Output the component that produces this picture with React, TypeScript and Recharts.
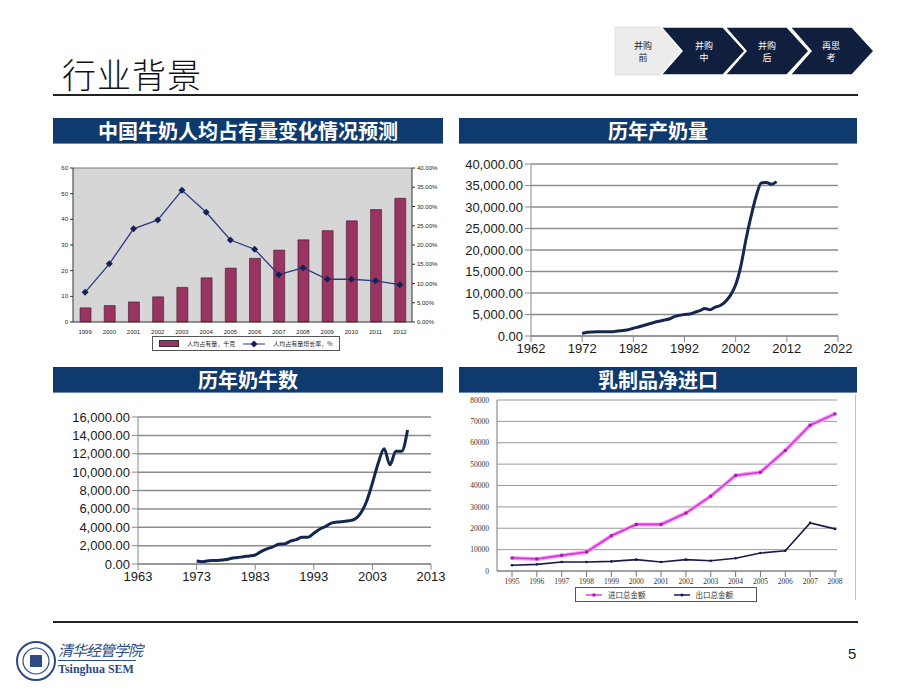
import React from "react";
import {
  ComposedChart,
  LineChart,
  Bar,
  Line,
  XAxis,
  YAxis,
  CartesianGrid,
  Legend,
  ReferenceLine,
} from "recharts";

// 中国牛奶人均占有量
const perCapitaYears = ["1999", "2000", "2001", "2002", "2003", "2004", "2005", "2006", "2007", "2008", "2009", "2010", "2011", "2012"];
const perCapitaKg = [5.5, 6.4, 7.8, 9.8, 13.5, 17.2, 21.0, 24.8, 28.0, 32.0, 35.6, 39.4, 43.8, 48.2];
const perCapitaGrowth = [7.7, 15.1, 24.2, 26.5, 34.2, 28.5, 21.3, 18.9, 12.3, 14.1, 11.1, 11.1, 10.7, 9.7];

// 历年产奶量
const milkYears = [1972, 1973, 1974, 1975, 1976, 1977, 1978, 1979, 1980, 1981, 1982, 1983, 1984, 1985, 1986, 1987, 1988, 1989, 1990, 1991, 1992, 1993, 1994, 1995, 1996, 1997, 1998, 1999, 2000, 2001, 2002, 2003, 2004, 2005, 2006, 2007, 2008, 2009, 2010];
const milkOutput = [600, 850, 950, 1000, 1000, 1000, 1000, 1150, 1300, 1450, 1800, 2100, 2450, 2800, 3150, 3450, 3700, 3950, 4500, 4800, 5000, 5100, 5500, 5900, 6400, 6100, 6700, 7100, 8000, 9500, 11900, 16200, 22400, 27800, 32500, 35600, 35700, 35300, 35900];
const milkTicks = [1962, 1972, 1982, 1992, 2002, 2012, 2022];

// 历年奶牛数
const cowYears = [1973, 1974, 1975, 1976, 1977, 1978, 1979, 1980, 1981, 1982, 1983, 1984, 1985, 1986, 1987, 1988, 1989, 1990, 1991, 1992, 1993, 1994, 1995, 1996, 1997, 1998, 1999, 2000, 2001, 2002, 2003, 2004, 2005, 2006, 2007, 2008, 2009];
const cowCount = [330, 250, 360, 380, 400, 480, 620, 700, 800, 870, 980, 1350, 1640, 1860, 2150, 2190, 2480, 2660, 2900, 2900, 3350, 3790, 4080, 4450, 4560, 4630, 4700, 4880, 5540, 6800, 8800, 11000, 12540, 10800, 12280, 12280, 14580];
const cowTicks = [1963, 1973, 1983, 1993, 2003, 2013];

// 乳制品净进口
const tradeYears = ["1995", "1996", "1997", "1998", "1999", "2000", "2001", "2002", "2003", "2004", "2005", "2006", "2007", "2008"];
const importTotal = [6100, 5650, 7300, 8900, 16500, 21800, 21800, 27100, 35000, 44700, 46200, 56400, 68200, 73500];
const exportTotal = [2700, 3100, 4200, 4200, 4500, 5300, 4200, 5300, 4800, 6000, 8400, 9500, 22500, 19700];

const perCapitaData = perCapitaYears.map((y, i) => ({ year: y, kg: perCapitaKg[i], rate: perCapitaGrowth[i] }));
const milkData = milkYears.map((y, i) => ({ year: y, value: milkOutput[i] }));
const cowData = cowYears.map((y, i) => ({ year: y, value: cowCount[i] }));
const tradeData = tradeYears.map((y, i) => ({ year: y, imp: importTotal[i], exp: exportTotal[i] }));

const NAVY = "#0f3a6e";
const CJK = "'Noto Sans CJK SC', 'Noto Sans', sans-serif";
const fmt2 = (v: number) => v.toLocaleString("en-US", { minimumFractionDigits: 2, maximumFractionDigits: 2 });

function Diamond(props: any) {
  const { cx, cy } = props;
  if (cx == null || cy == null) return null;
  return <path d={`M${cx},${cy - 3.5} L${cx + 3.5},${cy} L${cx},${cy + 3.5} L${cx - 3.5},${cy} Z`} fill="#14205a" />;
}

function SmallSquare(props: any) {
  const { cx, cy } = props;
  if (cx == null || cy == null) return null;
  return <rect x={cx - 1.5} y={cy - 1.5} width={3} height={3} fill="#a020a0" />;
}

function TitleBar({ left, top, width, text }: { left: number; top: number; width: number; text: string }) {
  return (
    <div
      style={{
        position: "absolute", left, top, width, height: 25, background: NAVY,
        color: "#fff", fontFamily: CJK, fontWeight: 700, fontSize: 20,
        lineHeight: "25px", textAlign: "center", borderBottom: "1px solid #6a88b0",
      }}
    >
      {text}
    </div>
  );
}

function PerCapitaLegend() {
  return (
    <div style={{ display: "flex", justifyContent: "center" }}>
      <div style={{ border: "1px solid #555", padding: "2px 6px", display: "flex", alignItems: "center", gap: 8, fontSize: 6, fontFamily: CJK, color: "#222", background: "#fff" }}>
        <span style={{ display: "inline-block", width: 18, height: 5, background: "#99335f", border: "0.5px solid #333" }} />
        <span>人均占有量，千克</span>
        <svg width={22} height={8}><line x1={0} y1={4} x2={22} y2={4} stroke="#2a3a80" strokeWidth={1} /><Diamond cx={11} cy={4} /></svg>
        <span>人均占有量增长率，%</span>
      </div>
    </div>
  );
}

function TradeLegend() {
  return (
    <div style={{ display: "flex", justifyContent: "center", paddingLeft: 30 }}>
      <div style={{ border: "1px solid #555", padding: "1px 10px", display: "flex", alignItems: "center", gap: 6, fontSize: 7.5, fontFamily: CJK, color: "#333", background: "#fff", width: 160 }}>
        <svg width={16} height={8}><line x1={0} y1={4} x2={16} y2={4} stroke="#e040e0" strokeWidth={1.5} /><SmallSquare cx={8} cy={4} /></svg>
        <span style={{ marginRight: 22 }}>进口总金额</span>
        <svg width={16} height={8}><line x1={0} y1={4} x2={16} y2={4} stroke="#1a1a4a" strokeWidth={1.5} /><circle cx={8} cy={4} r={1.5} fill="#1a1a4a" /></svg>
        <span>出口总金额</span>
      </div>
    </div>
  );
}

function Nav() {
  const chevrons = [
    { x: 661, text: ["并购", "中"], cx: 704 },
    { x: 725, text: ["并购", "后"], cx: 767 },
    { x: 790, text: ["再思", "考"], cx: 831 },
  ];
  return (
    <svg width={920} height={100} style={{ position: "absolute", left: 0, top: 0 }}>
      <rect x={615} y={27} width={70} height={48} fill="#ececec" stroke="#d0d0d0" strokeWidth={0.5} />
      {chevrons.map((c, i) => (
        <path
          key={i}
          d={`M${c.x},27 L${c.x + 62},27 L${c.x + 84},51 L${c.x + 62},75 L${c.x},75 L${c.x + 21},51 Z`}
          fill="#0f1f3d"
          stroke="#fff"
          strokeWidth={1.5}
        />
      ))}
      <text x={643} y={49} textAnchor="middle" fontSize={9} fontFamily={CJK} fill="#222">并购</text>
      <text x={643} y={61} textAnchor="middle" fontSize={9} fontFamily={CJK} fill="#222">前</text>
      {chevrons.map((c, i) => (
        <g key={"t" + i}>
          <text x={c.cx} y={49} textAnchor="middle" fontSize={9} fontFamily={CJK} fill="#fff">{c.text[0]}</text>
          <text x={c.cx} y={61} textAnchor="middle" fontSize={9} fontFamily={CJK} fill="#fff">{c.text[1]}</text>
        </g>
      ))}
    </svg>
  );
}

export default function App() {
  const axisFont = { fontSize: 13, fill: "#1a1a1a", fontFamily: "'Liberation Sans', Arial, sans-serif" };
  const tinyFont = { fontSize: 6, fill: "#222", fontFamily: "'Liberation Sans', Arial, sans-serif" };
  const serifTiny = { fontSize: 7.5, fill: "#333", fontFamily: "'Liberation Serif', 'DejaVu Serif', serif" };

  return (
    <div style={{ position: "absolute", left: 0, top: 0, width: 920, height: 690, background: "#fff", overflow: "hidden" }}>
      <Nav />
      <div style={{ position: "absolute", left: 62, top: 49, fontFamily: CJK, fontSize: 34, fontWeight: 300, color: "#111", letterSpacing: 1 }}>
        行业背景
      </div>
      <div style={{ position: "absolute", left: 53, top: 94, width: 805, height: 2, background: "#222" }} />

      <TitleBar left={53} top={118} width={390} text="中国牛奶人均占有量变化情况预测" />
      <TitleBar left={459} top={118} width={398} text="历年产奶量" />
      <TitleBar left={53} top={367} width={390} text="历年奶牛数" />
      <TitleBar left={459} top={367} width={398} text="乳制品净进口" />

      {/* 中国牛奶人均占有量变化情况预测 */}
      <div style={{ position: "absolute", left: 50, top: 160 }}>
        <ComposedChart width={392} height={193} data={perCapitaData} margin={{ top: 8, right: 3, bottom: 0, left: 3 }} barCategoryGap="50%">
          <CartesianGrid fill="#d6d6d6" horizontal={false} vertical={false} />
          <XAxis dataKey="year" tick={tinyFont} tickLine={false} axisLine={{ stroke: "#333" }} height={16} interval={0} />
          <YAxis yAxisId="l" domain={[0, 60]} ticks={[0, 10, 20, 30, 40, 50, 60]} interval={0} tick={tinyFont} tickLine={{ stroke: "#333" }} tickSize={3} axisLine={{ stroke: "#333" }} width={20} />
          <YAxis yAxisId="r" orientation="right" domain={[0, 40]} ticks={[0, 5, 10, 15, 20, 25, 30, 35, 40]} interval={0} tickFormatter={(v: number) => v.toFixed(2) + "%"} tick={tinyFont} tickLine={{ stroke: "#333" }} tickSize={3} axisLine={{ stroke: "#333" }} width={27} />
          <ReferenceLine yAxisId="l" y={60} stroke="#777" />
          <Bar yAxisId="l" dataKey="kg" fill="#99335f" stroke="#3a1a2a" strokeWidth={0.6} barSize={11} isAnimationActive={false} />
          <Line yAxisId="r" dataKey="rate" stroke="#2a3a80" strokeWidth={1.3} dot={<Diamond />} activeDot={false} isAnimationActive={false} />
          <Legend verticalAlign="bottom" content={() => <PerCapitaLegend />} wrapperStyle={{ bottom: 2 }} />
        </ComposedChart>
      </div>

      {/* 历年产奶量 */}
      <div style={{ position: "absolute", left: 458, top: 150 }}>
        <LineChart width={400} height={210} data={milkData} margin={{ top: 14, right: 20, bottom: 2, left: 3 }}>
          <CartesianGrid vertical={false} stroke="#8c8c8c" strokeWidth={1.5} />
          <XAxis dataKey="year" type="number" domain={[1962, 2022]} ticks={milkTicks} interval={0} tick={axisFont} tickLine={{ stroke: "#888" }} axisLine={{ stroke: "#888" }} height={22} />
          <YAxis domain={[0, 40000]} ticks={[0, 5000, 10000, 15000, 20000, 25000, 30000, 35000, 40000]} interval={0} tickFormatter={fmt2} tick={axisFont} tickLine={{ stroke: "#888" }} axisLine={{ stroke: "#888" }} width={70} />
          <Line dataKey="value" type="monotone" stroke="#14284f" strokeWidth={3} dot={false} activeDot={false} isAnimationActive={false} />
        </LineChart>
      </div>

      {/* 历年奶牛数 */}
      <div style={{ position: "absolute", left: 55, top: 405 }}>
        <LineChart width={395} height={183} data={cowData} margin={{ top: 12, right: 19, bottom: 2, left: 0 }}>
          <CartesianGrid vertical={false} stroke="#8c8c8c" strokeWidth={1.5} />
          <XAxis dataKey="year" type="number" domain={[1963, 2013]} ticks={cowTicks} interval={0} tick={axisFont} tickLine={{ stroke: "#888" }} axisLine={{ stroke: "#888" }} height={22} />
          <YAxis domain={[0, 16000]} ticks={[0, 2000, 4000, 6000, 8000, 10000, 12000, 14000, 16000]} interval={0} tickFormatter={fmt2} tick={axisFont} tickLine={{ stroke: "#888" }} axisLine={{ stroke: "#888" }} width={83} />
          <Line dataKey="value" type="monotone" stroke="#14284f" strokeWidth={3} dot={false} activeDot={false} isAnimationActive={false} />
        </LineChart>
      </div>

      {/* 乳制品净进口 */}
      <div style={{ position: "absolute", left: 460, top: 392 }}>
        <LineChart width={400} height={212} data={tradeData} margin={{ top: 8, right: 23, bottom: 2, left: 5 }}>
          <CartesianGrid vertical={false} stroke="#9a9a9a" />
          <XAxis dataKey="year" scale="point" padding={{ left: 15, right: 2 }} tick={serifTiny} tickLine={{ stroke: "#777" }} axisLine={{ stroke: "#777" }} height={16} interval={0} />
          <YAxis domain={[0, 80000]} ticks={[0, 10000, 20000, 30000, 40000, 50000, 60000, 70000, 80000]} interval={0} tick={serifTiny} tickLine={false} axisLine={{ stroke: "#777" }} width={32} />
          <Line dataKey="imp" stroke="#f5a0f5" strokeWidth={4} dot={false} activeDot={false} isAnimationActive={false} legendType="none" />
          <Line dataKey="imp" stroke="#d633d6" strokeWidth={1.6} dot={<SmallSquare />} activeDot={false} isAnimationActive={false} />
          <Line dataKey="exp" stroke="#1a1a4a" strokeWidth={1.6} dot={{ r: 1.3, fill: "#1a1a4a", stroke: "none" }} activeDot={false} isAnimationActive={false} />
          <Legend verticalAlign="bottom" content={() => <TradeLegend />} />
        </LineChart>
      </div>
      <div style={{ position: "absolute", left: 855, top: 395, width: 1, height: 205, background: "#b8c4cc" }} />

      {/* footer */}
      <div style={{ position: "absolute", left: 53, top: 621, width: 805, height: 1.5, background: "#222" }} />
      <svg width={90} height={50} style={{ position: "absolute", left: 14, top: 638 }}>
        <circle cx={22} cy={23} r={19} fill="#fff" stroke="#2c4a86" strokeWidth={2} />
        <circle cx={22} cy={23} r={13} fill="none" stroke="#2c4a86" strokeWidth={1.2} />
        <rect x={16} y={17} width={12} height={12} fill="#2c4a86" />
      </svg>
      <div style={{ position: "absolute", left: 58, top: 639, fontFamily: CJK, fontSize: 15, color: "#2c4a86", fontStyle: "italic", letterSpacing: -1 }}>清华经管学院</div>
      <div style={{ position: "absolute", left: 58, top: 660, width: 78, height: 1, background: "#2c4a86" }} />
      <div style={{ position: "absolute", left: 58, top: 662, fontFamily: "'Liberation Serif', serif", fontSize: 12, fontWeight: 700, color: "#2c4a86" }}>Tsinghua SEM</div>
      <div style={{ position: "absolute", left: 848, top: 645, fontFamily: "'Liberation Sans', Arial, sans-serif", fontSize: 15, color: "#222" }}>5</div>
    </div>
  );
}
